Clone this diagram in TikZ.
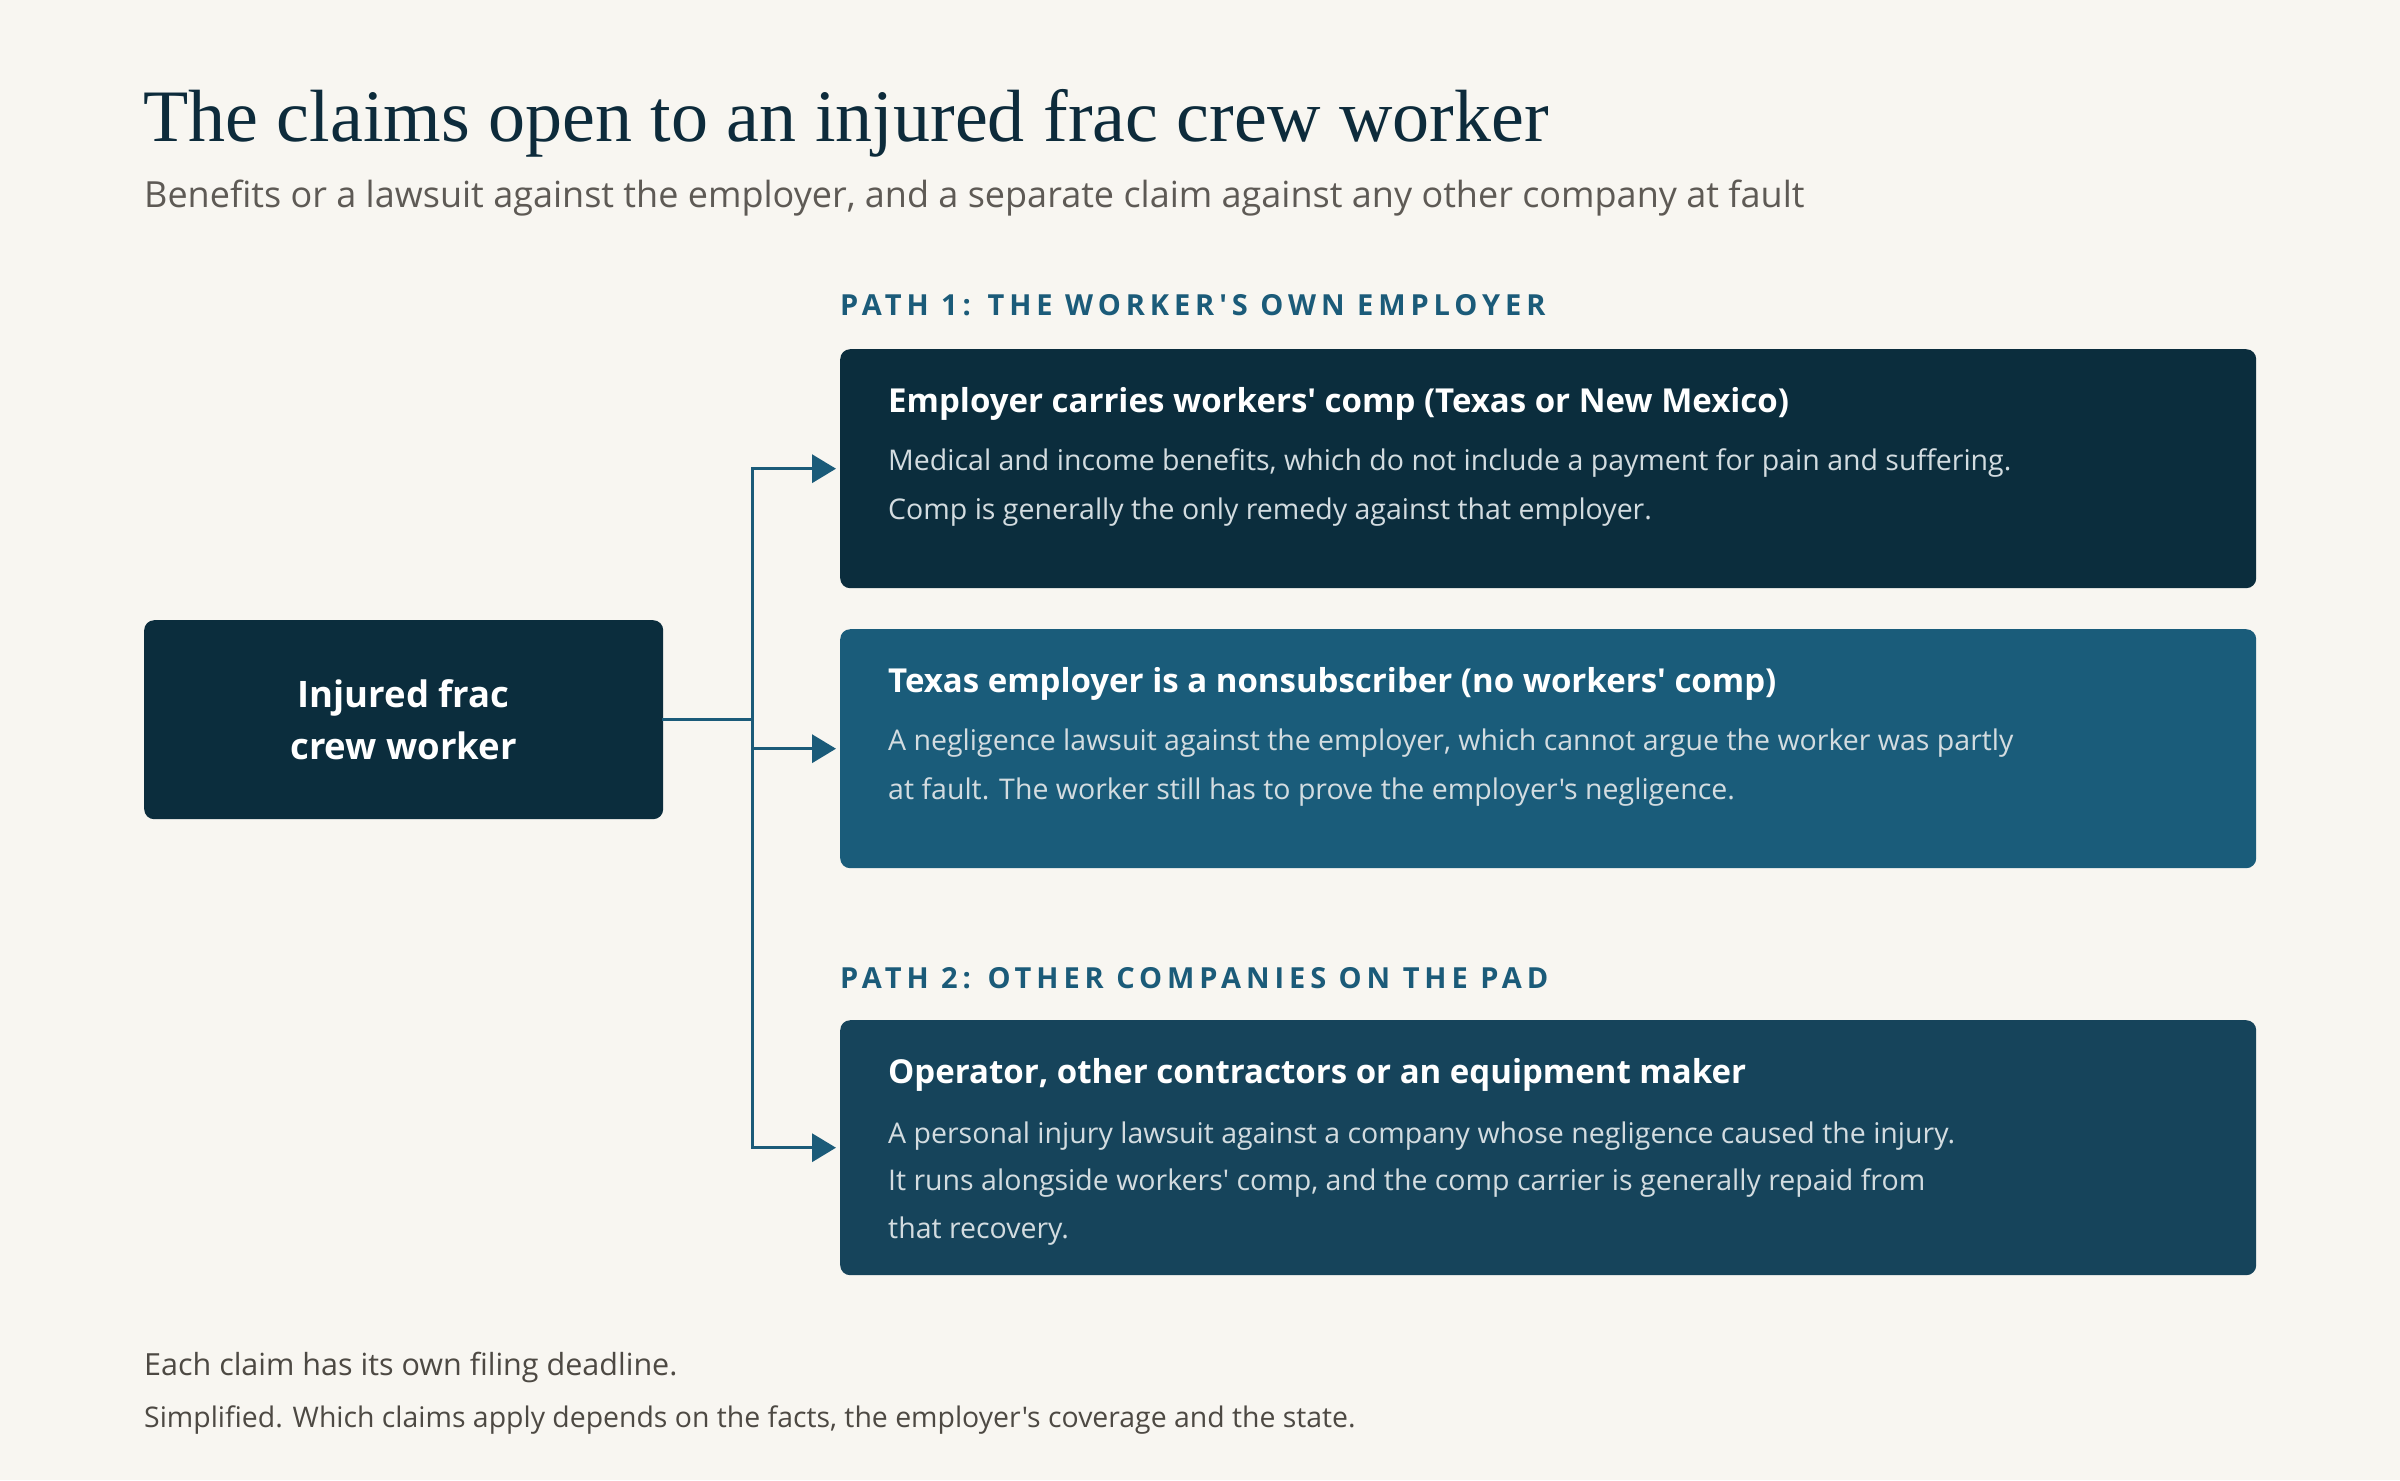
\documentclass[tikz,border=0pt]{standalone}
\usepackage{fontspec}
\setmainfont{Open Sans}[Ligatures=TeXOff]
\newfontfamily\headfont{Liberation Serif}[Ligatures=TeXOff]
\newfontfamily\pathfont{Open Sans}[Ligatures=TeXOff,LetterSpace=17]
\IfFontExistsTF{Open Sans SemiBold}
  {\newfontfamily\semifont{Open Sans SemiBold}[Ligatures=TeXOff]}
  {\newcommand\semifont{\bfseries}}
\usetikzlibrary{calc,arrows.meta}

\definecolor{paper}{HTML}{F8F6F1}
\definecolor{ink}{HTML}{0D2B3B}
\definecolor{greytext}{HTML}{5E5A55}
\definecolor{notetext}{HTML}{4D4943}
\definecolor{pathblue}{HTML}{1B5B79}
\definecolor{cardnavy}{HTML}{0B2D3D}
\definecolor{cardteal}{HTML}{1A5C7A}
\definecolor{carddeep}{HTML}{16445B}
\definecolor{cardbody}{HTML}{D3DCE0}

\tikzset{
  card/.style={rounded corners=10pt, inner sep=0pt, anchor=north west, minimum width=1416pt},
  cardhead/.style={anchor=base west, inner sep=0pt, text=white, font=\semifont\fontsize{33}{40}\selectfont},
  cardline/.style={anchor=base west, inner sep=0pt, text=cardbody, font=\fontsize{28.5}{36}\selectfont},
  pathlabel/.style={anchor=base west, inner sep=0pt, text=pathblue, font=\pathfont\fontsize{29}{36}\selectfont\bfseries},
  plain/.style={anchor=base west, inner sep=0pt},
  link/.style={draw=pathblue, line width=3.5pt, line cap=rect},
}

\begin{document}
\begin{tikzpicture}[x=1pt,y=-1pt]
\fill[paper] (0,0) rectangle (2400,1480);
\useasboundingbox (0,0) rectangle (2400,1480);

% heading
\node[plain, text=ink, font=\headfont\fontsize{74}{80}\selectfont] (title) at (143,141) {The claims open to an injured frac crew worker};
\node[plain, text=greytext, font=\fontsize{36}{40}\selectfont] (subtitle) at (144,207) {Benefits or a lawsuit against the employer, and a separate claim against any other company at fault};

% the worker
\node[card, fill=cardnavy, minimum width=519pt, minimum height=199pt, align=center, text=white, font=\semifont\fontsize{36.5}{52}\selectfont] (worker) at (144,620) {Injured frac\\crew worker};

% path 1
\node[pathlabel] (path1) at (840,315) {PATH 1: THE WORKER'S OWN EMPLOYER};
\node[card, fill=cardnavy, minimum height=239pt] (comp) at (840,349) {};
\node[cardhead] (comp-head) at ($(comp.north west)+(48,63)$) {Employer carries workers' comp (Texas or New Mexico)};
\node[cardline] (comp-l1) at ($(comp.north west)+(48,121)$) {Medical and income benefits, which do not include a payment for pain and suffering.};
\node[cardline] (comp-l2) at ($(comp.north west)+(48,170)$) {Comp is generally the only remedy against that employer.};

\node[card, fill=cardteal, minimum height=239pt] (nonsub) at (840,629) {};
\node[cardhead] (nonsub-head) at ($(nonsub.north west)+(48,63)$) {Texas employer is a nonsubscriber (no workers' comp)};
\node[cardline] (nonsub-l1) at ($(nonsub.north west)+(48,121)$) {A negligence lawsuit against the employer, which cannot argue the worker was partly};
\node[cardline] (nonsub-l2) at ($(nonsub.north west)+(48,170)$) {at fault. The worker still has to prove the employer's negligence.};

% path 2
\node[pathlabel] (path2) at (840,988) {PATH 2: OTHER COMPANIES ON THE PAD};
\node[card, fill=carddeep, minimum height=255pt] (third) at (840,1020) {};
\node[cardhead] (third-head) at ($(third.north west)+(48,63)$) {Operator, other contractors or an equipment maker};
\node[cardline] (third-l1) at ($(third.north west)+(48,123)$) {A personal injury lawsuit against a company whose negligence caused the injury.};
\node[cardline] (third-l2) at ($(third.north west)+(48,170)$) {It runs alongside workers' comp, and the comp carrier is generally repaid from};
\node[cardline] (third-l3) at ($(third.north west)+(48,218)$) {that recovery.};

% connectors
\coordinate (fork) at ($(worker.east)+(89,0)$);
\draw[link] (worker.east) -- (fork);
\draw[link] (fork |- comp.west) -- (fork |- third.west);
\foreach \cardname in {comp,nonsub,third}
  \draw[link,-{Triangle[length=24pt,width=28pt]},shorten >=4pt] (fork |- \cardname.west) -- (\cardname.west);

% notes
\node[plain, text=notetext, font=\fontsize{30.5}{36}\selectfont] (note1) at (144,1375) {Each claim has its own filing deadline.};
\node[plain, text=notetext, font=\fontsize{28.4}{32}\selectfont] (note2) at (144,1427) {Simplified. Which claims apply depends on the facts, the employer's coverage and the state.};
\end{tikzpicture}
\end{document}
